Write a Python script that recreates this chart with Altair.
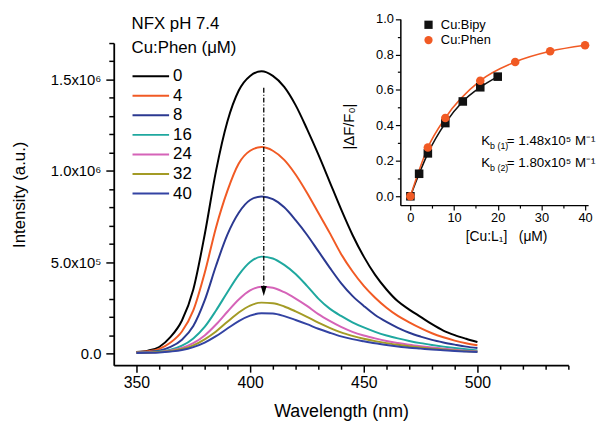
import altair as alt
import pandas as pd

FONT = "Liberation Sans"

# ---------------- main spectra (intensity in units of 1e5) ----------------
wavelength = [350, 355, 360, 365, 370, 375, 380, 385, 390, 395, 400, 405, 410, 415,
              420, 425, 430, 435, 440, 445, 450, 455, 460, 465, 470, 475, 480, 485,
              490, 495, 500]
conc_labels = ["0", "4", "8", "16", "24", "32", "40"]
conc_colors = ["#000000", "#f15a24", "#2b3991", "#1fa89f", "#d563b8", "#a39b25", "#3343a3"]

i_0 = [0.08, 0.15, 0.35, 0.9, 1.8, 3.5, 6.5, 10.0, 12.7, 14.4, 15.2, 15.45, 15.2, 14.6, 13.6,
       12.3, 10.9, 9.4, 7.9, 6.5, 5.3, 4.3, 3.5, 2.85, 2.4, 2.0, 1.6, 1.25, 1.0, 0.8, 0.62]
i_4 = [0.07, 0.12, 0.25, 0.6, 1.2, 2.35, 4.4, 6.9, 8.9, 10.4, 11.1, 11.3, 11.1, 10.6, 9.8,
       8.8, 7.7, 6.6, 5.45, 4.5, 3.7, 3.05, 2.5, 2.05, 1.7, 1.38, 1.1, 0.88, 0.7, 0.55, 0.44]
i_8 = [0.05, 0.08, 0.15, 0.35, 0.75, 1.5, 2.9, 4.8, 6.5, 7.7, 8.4, 8.6, 8.45, 8.0, 7.3,
       6.5, 5.6, 4.7, 3.85, 3.15, 2.6, 2.1, 1.72, 1.4, 1.13, 0.92, 0.74, 0.6, 0.48, 0.37, 0.29]
i_16 = [0.04, 0.06, 0.1, 0.2, 0.42, 0.82, 1.45, 2.35, 3.35, 4.3, 5.0, 5.3, 5.2, 4.85, 4.35,
        3.7, 3.0, 2.45, 2.05, 1.7, 1.42, 1.18, 0.98, 0.82, 0.68, 0.56, 0.46, 0.37, 0.29, 0.22, 0.16]
i_24 = [0.03, 0.05, 0.08, 0.16, 0.3, 0.56, 0.98, 1.58, 2.28, 2.95, 3.45, 3.65, 3.6, 3.35, 3.0,
        2.6, 2.15, 1.78, 1.45, 1.18, 0.98, 0.82, 0.68, 0.57, 0.47, 0.39, 0.32, 0.26, 0.2, 0.15, 0.11]
i_32 = [0.03, 0.04, 0.07, 0.13, 0.24, 0.44, 0.77, 1.2, 1.73, 2.24, 2.62, 2.78, 2.75, 2.57, 2.3,
        2.0, 1.68, 1.4, 1.15, 0.96, 0.8, 0.67, 0.56, 0.47, 0.39, 0.32, 0.26, 0.21, 0.16, 0.12, 0.09]
i_40 = [0.02, 0.03, 0.05, 0.1, 0.18, 0.34, 0.59, 0.94, 1.36, 1.77, 2.07, 2.2, 2.18, 2.04, 1.83,
        1.6, 1.35, 1.13, 0.93, 0.78, 0.66, 0.55, 0.46, 0.38, 0.31, 0.26, 0.21, 0.17, 0.13, 0.1, 0.07]
series = [i_0, i_4, i_8, i_16, i_24, i_32, i_40]

main_x_major = [350, 400, 450, 500]
main_x_minor = [360, 370, 380, 390, 410, 420, 430, 440, 460, 470, 480, 490, 510, 520, 530, 540]
main_y_major = [0, 5, 10, 15]
main_y_minor = [1, 2, 3, 4, 6, 7, 8, 9, 11, 12, 13, 14, 16, 17]

# arrow annotation (data units)
arrow_wl = [406]
arrow_top = [14.55]
arrow_bottom = [3.6]
arrow_head = [3.42]

# ---------------- inset data ----------------
bipy_x = [0, 2, 4, 8, 12, 16, 20]
bipy_y = [0.0, 0.127, 0.242, 0.413, 0.535, 0.615, 0.675]
phen_x = [0, 4, 8, 16, 24, 32, 40]
phen_y = [0.0, 0.275, 0.442, 0.652, 0.758, 0.818, 0.852]
inset_names = ["Cu:Bipy", "Cu:Phen"]
inset_colors = ["#111111", "#f15a24"]
inset_shapes = ["square", "circle"]
inset_x_major = [0, 10, 20, 30, 40]
inset_x_minor = [5, 15, 25, 35]
inset_y_major = [0.0, 0.2, 0.4, 0.6, 0.8, 1.0]
inset_y_minor = [0.1, 0.3, 0.5, 0.7, 0.9]

kb_x = [16.2, 16.2]
kb_y = [0.31, 0.185]
kb_sub = ["b (1)", "b (2)"]
kb_val = ["= 1.48x10\u2075 M\u207b\u00b9", "= 1.80x10\u2075 M\u207b\u00b9"]

# ---------------- tables ----------------
rows = []
for c, vals in zip(conc_labels, series):
    for w, v in zip(wavelength, vals):
        rows.append({"wl": w, "I": v, "conc": c})
spec_df = pd.DataFrame(rows)

arrow_df = pd.DataFrame({"wl": arrow_wl, "top": arrow_top, "bottom": arrow_bottom, "head": arrow_head})

inset_rows = []
for x, y in zip(bipy_x, bipy_y):
    inset_rows.append({"c": x, "f": y, "s": "Cu:Bipy"})
for x, y in zip(phen_x, phen_y):
    inset_rows.append({"c": x, "f": y, "s": "Cu:Phen"})
inset_df = pd.DataFrame(inset_rows)

kb_df = pd.DataFrame({"c": kb_x, "f": kb_y, "sub": kb_sub, "val": kb_val})

# ---------------- scales ----------------
xs_main = alt.Scale(domain=[340, 540], nice=False, zero=False)
ys_main = alt.Scale(domain=[-0.65, 17], nice=False, zero=False)
xs_in = alt.Scale(domain=[-2.3, 40.7], range=[290, 480], nice=False, zero=False)
ys_in = alt.Scale(domain=[-0.05, 1.0], range=[164, -24.3], nice=False, zero=False)

y_label_expr = ("datum.value == 0 ? '0.0' : datum.value == 5 ? '5.0x10\u2075' : "
                "datum.value == 10 ? '1.0x10\u2076' : '1.5x10\u2076'")

# ---------------- main layers ----------------
lines = alt.Chart(spec_df).mark_line(strokeWidth=2, interpolate="monotone").encode(
    x=alt.X("wl:Q", scale=xs_main,
            axis=alt.Axis(orient="bottom", values=main_x_major, tickSize=7, tickWidth=1.5,
                          domainWidth=1.8, labelFontSize=16, labelPadding=3,
                          title="Wavelength (nm)", titleFontSize=18, titleFontWeight="normal",
                          titleY=38, grid=False)),
    y=alt.Y("I:Q", scale=ys_main,
            axis=alt.Axis(orient="left", values=main_y_major, labelExpr=y_label_expr,
                          tickSize=8, tickWidth=1.5, domainWidth=1.8, labelFontSize=15,
                          labelPadding=5, title="Intensity (a.u.)", titleFontSize=17,
                          titleFontWeight="normal", titleX=-86, titleY=153, grid=False)),
    color=alt.Color("conc:N", scale=alt.Scale(domain=conc_labels, range=conc_colors),
                    sort=conc_labels,
                    legend=alt.Legend(orient="none", legendX=18, legendY=-27,
                                      title=["NFX pH 7.4", "Cu:Phen (\u03bcM)"],
                                      titleFontSize=17, titleFontWeight="normal",
                                      titleLineHeight=24, titlePadding=11, titleColor="black",
                                      labelFontSize=17, labelColor="black", labelOffset=3,
                                      symbolType="stroke", symbolSize=1369,
                                      symbolStrokeWidth=2, clipHeight=17, rowPadding=1.8,
                                      padding=0)),
)

arrow = alt.Chart(arrow_df).mark_rule(strokeDash=[5, 2, 1, 2], strokeWidth=1.3, color="black").encode(
    x=alt.X("wl:Q", scale=xs_main,
            axis=alt.Axis(orient="bottom", values=main_x_minor, tickSize=4, tickWidth=1.5,
                          labels=False, domain=False, title="", grid=False)),
    y=alt.Y("top:Q", scale=ys_main,
            axis=alt.Axis(orient="left", values=main_y_minor, tickSize=5, tickWidth=1.5,
                          labels=False, domain=False, title="", grid=False)),
    y2="bottom:Q",
)

head = alt.Chart(arrow_df).mark_point(shape="M-0.6,-1L0.6,-1L0,1Z", filled=True, color="black",
                                      size=100, opacity=1).encode(
    x=alt.X("wl:Q", scale=xs_main, axis=None),
    y=alt.Y("head:Q", scale=ys_main, axis=None),
)

main = alt.layer(lines, arrow, head).resolve_axis(x="independent", y="independent")

# ---------------- inset layers ----------------
in_lines = alt.Chart(inset_df).mark_line(strokeWidth=1.6, interpolate="monotone").encode(
    x=alt.X("c:Q", scale=xs_in,
            axis=alt.Axis(orient="bottom", offset=-162, values=inset_x_minor, tickSize=3,
                          tickWidth=1.2, labels=False, domain=False, title="", grid=False)),
    y=alt.Y("f:Q", scale=ys_in,
            axis=alt.Axis(orient="left", offset=-290, values=inset_y_minor, tickSize=3,
                          tickWidth=1.2, labels=False, domain=False, title="", grid=False)),
    stroke=alt.Stroke("s:N", scale=alt.Scale(domain=inset_names, range=inset_colors), legend=None),
)

in_points = alt.Chart(inset_df).mark_point(filled=True, opacity=1, size=75).encode(
    x=alt.X("c:Q", scale=xs_in,
            axis=alt.Axis(orient="bottom", offset=-162, values=inset_x_major, tickSize=5,
                          tickWidth=1.2, domainWidth=1.5, labelFontSize=13, labelPadding=2,
                          title="[Cu:L\u2081]\u00a0\u00a0\u00a0(\u03bcM)", titleFontSize=14,
                          titleFontWeight="normal", titleX=397, titleY=25, grid=False)),
    y=alt.Y("f:Q", scale=ys_in,
            axis=alt.Axis(orient="left", offset=-290, values=inset_y_major, format=".1f",
                          tickSize=5, tickWidth=1.2, domainWidth=1.5, labelFontSize=13,
                          labelPadding=2, title="|\u0394F/F\u2080|", titleFontSize=15,
                          titleFontWeight="normal", titleX=-44, titleY=84, grid=False)),
    color=alt.Color("s:N", scale=alt.Scale(domain=inset_names, range=inset_colors),
                    legend=alt.Legend(orient="none", legendX=312, legendY=-25, title=None,
                                      labelFontSize=13, labelColor="black", labelOffset=6,
                                      symbolSize=70, rowPadding=1.5, padding=0)),
    shape=alt.Shape("s:N", scale=alt.Scale(domain=inset_names, range=inset_shapes)),
)

kb_k = alt.Chart(kb_df).mark_text(text="K", align="left", baseline="middle", fontSize=13.5,
                                  font=FONT, color="black").encode(
    x=alt.X("c:Q", scale=xs_in, axis=None),
    y=alt.Y("f:Q", scale=ys_in, axis=None),
)
kb_s = alt.Chart(kb_df).mark_text(align="left", baseline="middle", fontSize=9, dx=9, dy=5,
                                  font=FONT, color="black").encode(
    x=alt.X("c:Q", scale=xs_in, axis=None),
    y=alt.Y("f:Q", scale=ys_in, axis=None),
    text="sub:N",
)
kb_v = alt.Chart(kb_df).mark_text(align="left", baseline="middle", fontSize=13.5, dx=26,
                                  font=FONT, color="black").encode(
    x=alt.X("c:Q", scale=xs_in, axis=None),
    y=alt.Y("f:Q", scale=ys_in, axis=None),
    text="val:N",
)

inset = alt.layer(in_lines, in_points, kb_k, kb_s, kb_v).resolve_axis(
    x="independent", y="independent")

chart = alt.layer(main, inset).resolve_scale(
    x="independent", y="independent", color="independent", shape="independent"
).properties(
    width=460, height=326,
    padding={"left": 107, "top": 33, "right": 30, "bottom": 58},
    autosize=alt.AutoSizeParams(type="none"),
).configure(
    font=FONT,
    background="white",
).configure_view(
    stroke=None,
).configure_axis(
    labelColor="black", titleColor="black", domainColor="black", tickColor="black",
    labelFont=FONT, titleFont=FONT,
).configure_legend(
    labelFont=FONT, titleFont=FONT,
)

chart.save("out.html", embed_options={"renderer": "svg", "actions": False})
